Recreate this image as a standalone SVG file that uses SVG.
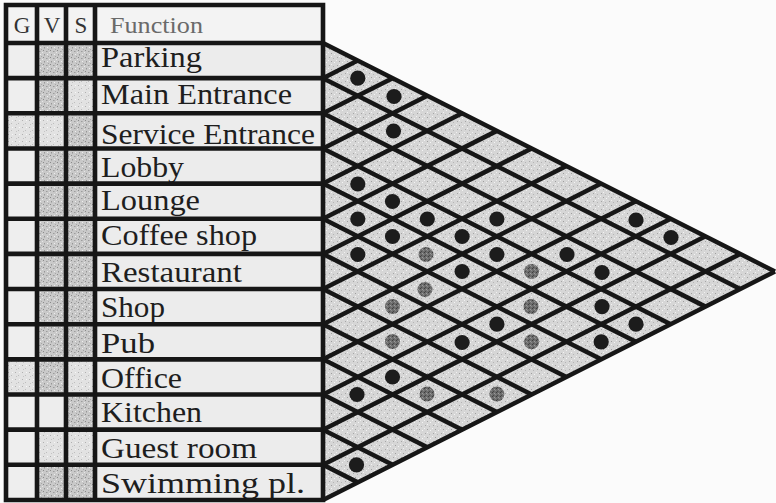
<svg xmlns="http://www.w3.org/2000/svg" width="776" height="503" viewBox="0 0 776 503">
<defs>
<pattern id="spk" width="7" height="7" patternUnits="userSpaceOnUse">
<rect width="7" height="7" fill="#c9c9c9"/>
<rect x="1" y="1" width="1" height="1" fill="#8a8a8a"/>
<rect x="4" y="2" width="1.5" height="1" fill="#9c9c9c"/>
<rect x="2" y="5" width="1" height="1.5" fill="#959595"/>
<rect x="5" y="5" width="1" height="1" fill="#eeeeee"/>
<rect x="0" y="3" width="1" height="1" fill="#e6e6e6"/>
<rect x="6" y="0" width="1" height="1" fill="#a5a5a5"/>
</pattern>
<pattern id="lt" width="7" height="7" patternUnits="userSpaceOnUse">
<rect width="7" height="7" fill="#e2e2e2"/>
<rect x="1" y="1" width="1" height="1" fill="#b0b0b0"/>
<rect x="4" y="4" width="1" height="1" fill="#bdbdbd"/>
<rect x="5" y="1" width="1" height="1" fill="#f7f7f7"/>
<rect x="2" y="5" width="1" height="1" fill="#c4c4c4"/>
</pattern>
<pattern id="tri" width="8" height="8" patternUnits="userSpaceOnUse">
<rect width="8" height="8" fill="#d6d6d6"/>
<rect x="1" y="1" width="1" height="1" fill="#a6a6a6"/>
<rect x="5" y="2" width="1" height="1" fill="#b4b4b4"/>
<rect x="3" y="5" width="1" height="1" fill="#9e9e9e"/>
<rect x="6" y="6" width="1" height="1" fill="#f4f4f4"/>
<rect x="0" y="4" width="1" height="1" fill="#f0f0f0"/>
<rect x="3" y="0" width="1" height="1" fill="#f2f2f2"/>
</pattern>
<pattern id="gd" width="4" height="4" patternUnits="userSpaceOnUse">
<rect width="4" height="4" fill="#6c6c6c"/>
<rect x="0" y="0" width="1" height="1" fill="#3e3e3e"/>
<rect x="2" y="1" width="1" height="1" fill="#9a9a9a"/>
<rect x="1" y="3" width="1" height="1" fill="#484848"/>
<rect x="3" y="2" width="1" height="1" fill="#8a8a8a"/>
</pattern>
</defs>
<style>
.lbl{font-family:"Liberation Serif","Times New Roman",serif;font-size:30px;fill:#1e1e1e}
.hd{font-family:"Liberation Serif","Times New Roman",serif;font-size:23px;fill:#333}
.fn{fill:#6a6a6a}
.ln{stroke:#161616;stroke-width:4.6;fill:none;stroke-linecap:square}
.gl{stroke:#161616;stroke-width:4.5;fill:none}
.bd{fill:#1c1c1c}
.gy{fill:url(#gd)}
</style>
<rect width="776" height="503" fill="#fbfbfb"/>

<g id="table-fills">
<rect x="6" y="5" width="317" height="38" fill="#f3f3f3"/>
<rect x="6" y="43" width="31" height="457" fill="#eeeeee"/>
<rect x="37" y="43" width="29" height="457" fill="url(#spk)"/>
<rect x="66" y="43" width="29" height="457" fill="url(#spk)"/>
<rect x="95" y="43" width="228" height="457" fill="#ececec"/>
<rect x="66" y="78" width="29" height="35" fill="url(#lt)"/>
<rect x="6" y="113" width="31" height="35" fill="url(#lt)"/>
<rect x="37" y="113" width="29" height="35" fill="url(#lt)"/>
<rect x="6" y="359" width="31" height="35" fill="url(#lt)"/>
<rect x="66" y="359" width="29" height="35" fill="url(#lt)"/>
<rect x="37" y="394" width="29" height="35" fill="#ededed"/>
<rect x="37" y="429" width="29" height="36" fill="url(#lt)"/>
<rect x="66" y="429" width="29" height="36" fill="url(#lt)"/>
</g>

<polygon id="matrix-bg" points="323,43 775,271.5 323,500" fill="url(#tri)"/>

<g id="header">
<text class="hd" x="22" y="33" text-anchor="middle">G</text>
<text class="hd" x="52" y="33" text-anchor="middle">V</text>
<text class="hd" x="81" y="33" text-anchor="middle">S</text>
<text class="hd fn" x="110" y="33" textLength="93" lengthAdjust="spacingAndGlyphs">Function</text>
</g>
<g id="row-parking"><text class="lbl" x="101" y="67" textLength="101" lengthAdjust="spacingAndGlyphs">Parking</text></g>
<g id="row-main-entrance"><text class="lbl" x="101" y="104" textLength="191" lengthAdjust="spacingAndGlyphs">Main Entrance</text></g>
<g id="row-service-entrance"><text class="lbl" x="101" y="144" textLength="214" lengthAdjust="spacingAndGlyphs">Service Entrance</text></g>
<g id="row-lobby"><text class="lbl" x="101" y="177" textLength="83" lengthAdjust="spacingAndGlyphs">Lobby</text></g>
<g id="row-lounge"><text class="lbl" x="101" y="210" textLength="99" lengthAdjust="spacingAndGlyphs">Lounge</text></g>
<g id="row-coffee-shop"><text class="lbl" x="101" y="245" textLength="156" lengthAdjust="spacingAndGlyphs">Coffee shop</text></g>
<g id="row-restaurant"><text class="lbl" x="101" y="282" textLength="141" lengthAdjust="spacingAndGlyphs">Restaurant</text></g>
<g id="row-shop"><text class="lbl" x="101" y="317" textLength="64" lengthAdjust="spacingAndGlyphs">Shop</text></g>
<g id="row-pub"><text class="lbl" x="101" y="353" textLength="54" lengthAdjust="spacingAndGlyphs">Pub</text></g>
<g id="row-office"><text class="lbl" x="101" y="388" textLength="81" lengthAdjust="spacingAndGlyphs">Office</text></g>
<g id="row-kitchen"><text class="lbl" x="101" y="422" textLength="101" lengthAdjust="spacingAndGlyphs">Kitchen</text></g>
<g id="row-guest-room"><text class="lbl" x="101" y="458" textLength="156" lengthAdjust="spacingAndGlyphs">Guest room</text></g>
<g id="row-swimming"><text class="lbl" x="101" y="493" textLength="204" lengthAdjust="spacingAndGlyphs">Swimming pl.</text></g>

<g id="table-lines">
<path class="ln" d="M6,5V500 M37,5V500 M66,5V500 M95,5V500 M323,5V500
M6,5H323 M6,43H323 M6,78.15H323 M6,113.3H323 M6,148.45H323 M6,183.6H323 M6,218.75H323 M6,253.9H323 M6,289.05H323 M6,324.2H323 M6,359.35H323 M6,394.5H323 M6,429.65H323 M6,464.8H323 M6,500H323"/>
</g>

<g id="connectors">
<path class="gl" d="M323,43L775,271.5 M323,78.15L740.24,289.05 M323,113.3L705.47,306.63 M323,148.45L670.7,324.2 M323,183.6L635.93,341.78 M323,218.75L601.16,359.35 M323,253.9L566.39,376.93 M323,289.05L531.62,394.5 M323,324.2L496.85,412.08 M323,359.35L462.08,429.65 M323,394.5L427.31,447.23 M323,429.65L392.54,464.8 M323,464.8L357.77,482.38"/>
<path class="gl" d="M323,78.15L357.77,60.58 M323,113.3L392.54,78.15 M323,148.45L427.31,95.73 M323,183.6L462.08,113.3 M323,218.75L496.85,130.88 M323,253.9L531.62,148.45 M323,289.05L566.39,166.03 M323,324.2L601.16,183.6 M323,359.35L635.93,201.18 M323,394.5L670.7,218.75 M323,429.65L705.47,236.33 M323,464.8L740.24,253.9 M323,500L775,271.5"/>
</g>

<g id="marks-strong">
<circle class="bd" cx="357.8" cy="78.2" r="7.6"/>
<circle class="bd" cx="394" cy="96.5" r="7.6"/>
<circle class="bd" cx="393.5" cy="131" r="7.6"/>
<circle class="bd" cx="357.8" cy="184" r="7.6"/>
<circle class="bd" cx="392.5" cy="201.5" r="7.6"/>
<circle class="bd" cx="357.8" cy="219" r="7.6"/>
<circle class="bd" cx="427.3" cy="219" r="7.6"/>
<circle class="bd" cx="496.9" cy="219" r="7.6"/>
<circle class="bd" cx="392.5" cy="236.5" r="7.6"/>
<circle class="bd" cx="462.1" cy="236.5" r="7.6"/>
<circle class="bd" cx="357.8" cy="254.5" r="7.6"/>
<circle class="bd" cx="496.9" cy="254.5" r="7.6"/>
<circle class="bd" cx="462.1" cy="271.5" r="7.6"/>
<circle class="bd" cx="636" cy="220" r="7.6"/>
<circle class="bd" cx="671" cy="237.5" r="7.6"/>
<circle class="bd" cx="567" cy="254.5" r="7.6"/>
<circle class="bd" cx="602" cy="272.5" r="7.6"/>
<circle class="bd" cx="602" cy="306.6" r="7.6"/>
<circle class="bd" cx="636" cy="324.2" r="7.6"/>
<circle class="bd" cx="601.2" cy="341.8" r="7.6"/>
<circle class="bd" cx="496.9" cy="324.2" r="7.6"/>
<circle class="bd" cx="462.1" cy="342.5" r="7.6"/>
<circle class="bd" cx="392.5" cy="377" r="7.6"/>
<circle class="bd" cx="357" cy="394.5" r="7.6"/>
<circle class="bd" cx="356.5" cy="464.8" r="7.6"/>
</g>
<g id="marks-weak">
<circle class="gy" cx="426" cy="254.5" r="7.5"/>
<circle class="gy" cx="531.6" cy="271.5" r="7.5"/>
<circle class="gy" cx="425" cy="289.5" r="7.5"/>
<circle class="gy" cx="392.5" cy="306.6" r="7.5"/>
<circle class="gy" cx="531" cy="306.6" r="7.5"/>
<circle class="gy" cx="392.5" cy="341.5" r="7.5"/>
<circle class="gy" cx="531.6" cy="341.8" r="7.5"/>
<circle class="gy" cx="427" cy="394" r="7.5"/>
<circle class="gy" cx="496.9" cy="394" r="7.5"/>
</g>
</svg>
